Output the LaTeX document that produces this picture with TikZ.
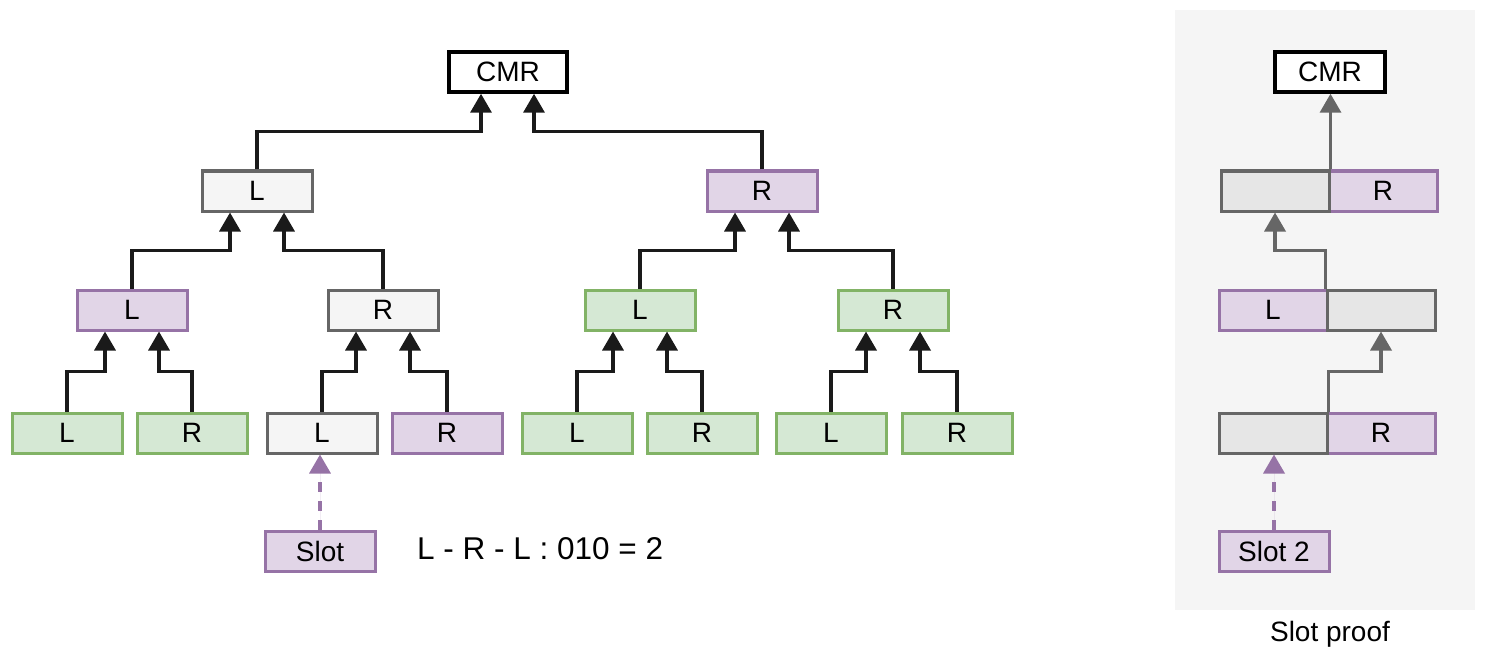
\documentclass[tikz,border=0pt]{standalone}
\usepackage{fontspec}
\setmainfont{Liberation Sans}
\usetikzlibrary{arrows.meta,calc}
\definecolor{greenF}{HTML}{D5E8D4}
\definecolor{greenD}{HTML}{82B366}
\definecolor{purpF}{HTML}{E1D5E7}
\definecolor{purpD}{HTML}{9673A6}
\definecolor{grayF}{HTML}{F5F5F5}
\definecolor{grayD}{HTML}{666666}
\definecolor{halfF}{HTML}{E6E6E6}
\definecolor{panelF}{HTML}{F5F5F5}
\definecolor{connC}{HTML}{1A1A1A}
\tikzset{
  box/.style={draw, line width=3pt, minimum width=110pt, minimum height=40pt, inner sep=0pt,
    font=\fontsize{28}{30}\selectfont},
  gbox/.style={box, draw=greenD, fill=greenF},
  pbox/.style={box, draw=purpD, fill=purpF},
  ybox/.style={box, draw=grayD, fill=grayF},
  cmrbox/.style={box, draw=black, fill=white, line width=3.5pt, minimum width=118pt, minimum height=40pt},
  hgray/.style={box, draw=grayD, fill=halfF, minimum width=108pt},
  hpurp/.style={box, draw=purpD, fill=purpF, minimum width=108pt},
  conn/.style={draw=connC, line width=3.5pt, line join=miter,
    -{Triangle[width=21pt,length=19pt]}},
  gconn/.style={draw=grayD, line width=3.5pt, line join=miter,
    -{Triangle[width=21pt,length=19pt]}},
  slotconn/.style={draw=purpD, fill=purpD, line width=3.5pt, dash pattern=on 10pt off 9pt,
    -{Triangle[width=21pt,length=19pt]}},
  plain/.style={inner sep=0pt, font=\fontsize{28}{30}\selectfont},
}
\newcommand\elbow[4][conn]{%
  \coordinate (tt) at ([xshift=#4]#3.south);
  \coordinate (mm) at ($(#2)!0.5!(#3.south)$);
  \draw[#1] (#2) |- (tt |- mm) -- (tt);}
\begin{document}
\begin{tikzpicture}[x=1pt,y=-1pt]
\useasboundingbox (0,0) rectangle (1486,666);
% right panel background
\fill[panelF] (1175,10) rectangle (1475,610);
\node[plain] (cap) at (1330,634) {Slot proof};

% ---- tree ----
\node[cmrbox] (cmr) at (508,72) {CMR};
\node[ybox] (a1) at (257,191) {L};
\node[pbox] (a2) at (762,191) {R};
\node[pbox] (b1) at (132,310) {L};
\node[ybox] (b2) at (383,310) {R};
\node[gbox] (b3) at (640,310) {L};
\node[gbox] (b4) at (893,310) {R};
\node[gbox] (c1) at (67,433) {L};
\node[gbox] (c2) at (192,433) {R};
\node[ybox] (c3) at (322,433) {L};
\node[pbox] (c4) at (447,433) {R};
\node[gbox] (c5) at (577,433) {L};
\node[gbox] (c6) at (702,433) {R};
\node[gbox] (c7) at (831,433) {L};
\node[gbox] (c8) at (957,433) {R};
\node[pbox] (slot) at (320,551) {Slot};
\node[plain, anchor=west, font=\fontsize{31.5}{34}\selectfont] (path) at (417,549) {L - R - L : 010 = 2};

\elbow{a1.north}{cmr}{-27pt}
\elbow{a2.north}{cmr}{26pt}
\elbow{b1.north}{a1}{-27pt}
\elbow{b2.north}{a1}{27pt}
\elbow{b3.north}{a2}{-27pt}
\elbow{b4.north}{a2}{27pt}
\elbow{c1.north}{b1}{-27pt}
\elbow{c2.north}{b1}{27pt}
\elbow{c3.north}{b2}{-27pt}
\elbow{c4.north}{b2}{27pt}
\elbow{c5.north}{b3}{-27pt}
\elbow{c6.north}{b3}{27pt}
\elbow{c7.north}{b4}{-27pt}
\elbow{c8.north}{b4}{27pt}
\draw[slotconn] (slot.north) -- (slot.north |- c3.south);

% ---- slot proof ----
\node[cmrbox, minimum width=110pt] (pc) at (1330,72) {CMR};
\node[hpurp] (r1b) at (1383,191) {R};
\node[hgray] (r1a) at (1275,191) {};
\node[hpurp] (r2a) at (1273,310) {L};
\node[hgray] (r2b) at (1381,310) {};
\node[hpurp] (r3b) at (1381,433) {R};
\node[hgray] (r3a) at (1273,433) {};
\node[pbox] (slot2) at (1274,551) {Slot 2};

\draw[gconn] (r1a.north east) -- (r1a.north east |- pc.south);
\elbow[gconn]{r2b.north west}{r1a}{0pt}
\elbow[gconn]{r3a.north east}{r2b}{0pt}
\draw[slotconn] (slot2.north) -- (slot2.north |- r3a.south);
\end{tikzpicture}
\end{document}
